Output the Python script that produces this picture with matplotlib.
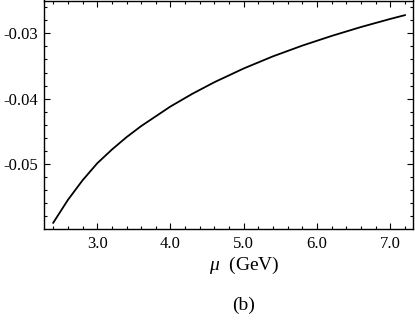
import matplotlib
matplotlib.use("Agg")
import matplotlib.pyplot as plt
from matplotlib.ticker import MultipleLocator, FormatStrFormatter

plt.rcParams['font.family'] = ['Liberation Serif', 'DejaVu Serif']
plt.rcParams['mathtext.fontset'] = 'custom'
plt.rcParams['mathtext.it'] = 'Liberation Serif:italic'
plt.rcParams['axes.unicode_minus'] = False

# curve
mu = [2.4, 2.6, 2.8, 3.0, 3.2, 3.4, 3.6, 3.8, 4.0, 4.3, 4.6, 5.0,
      5.4, 5.8, 6.2, 6.6, 7.0, 7.2]
val = [-0.0590, -0.0555, -0.0525, -0.0499, -0.0478, -0.0459, -0.0442,
       -0.0427, -0.0412, -0.03925, -0.03748, -0.03538, -0.03352, -0.03188,
       -0.0304, -0.02904, -0.0278, -0.02722]

fig = plt.figure(figsize=(4.15, 3.23), dpi=100)
ax = fig.add_axes([44/415, 94/323, 369/415, 228.5/323])
ax.plot(mu, val, color='black', lw=1.3)

ax.set_xlim(2.274, 7.31)
ax.set_ylim(-0.05995, -0.02498)

ax.xaxis.set_major_locator(MultipleLocator(1.0))
ax.xaxis.set_minor_locator(MultipleLocator(0.2))
ax.yaxis.set_major_locator(MultipleLocator(0.01))
ax.yaxis.set_minor_locator(MultipleLocator(0.002))
ax.xaxis.set_major_formatter(FormatStrFormatter('%.1f'))
ax.yaxis.set_major_formatter(FormatStrFormatter('%.2f'))

ax.tick_params(which='both', direction='in', top=True, right=True,
               labelsize=12, width=0.8)
ax.tick_params(which='major', length=4)
ax.tick_params(which='minor', length=2)
ax.tick_params(axis='x', pad=5)
ax.tick_params(axis='y', pad=4)
for s in ax.spines.values():
    s.set_linewidth(1.0)

fig.text(244/415, 1 - 265/323, r'$\mu$  (GeV)', ha='center', va='center',
         fontsize=14)
fig.text(244/415, 1 - 305/323, '(b)', ha='center', va='center', fontsize=14)

fig.savefig('out.png', dpi=100)
